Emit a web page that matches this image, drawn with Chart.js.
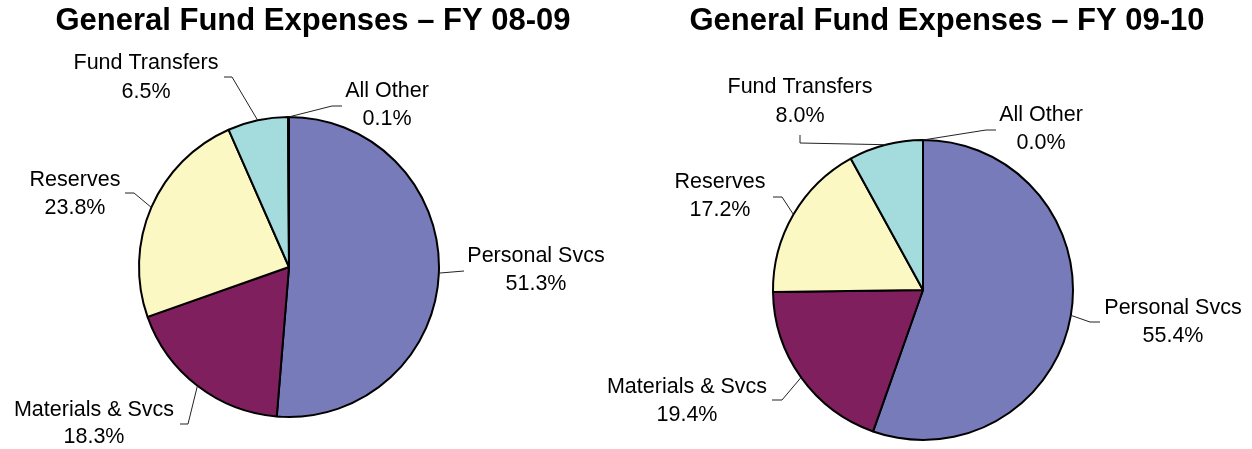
<!DOCTYPE html>
<html>
<head>
<meta charset="utf-8">
<script src="https://cdn.jsdelivr.net/npm/chart.js@4/dist/chart.umd.min.js"></script>
<style>
  body { margin: 0; background: #fff; }
  canvas { position: absolute; top: 0; left: 0; }
</style>
</head>
<body>
<canvas id="chart-0809" width="1252" height="449"></canvas>
<canvas id="chart-0910" width="1252" height="449"></canvas>
<script>
// data
const categories = ["Personal Svcs", "Materials & Svcs", "Reserves", "Fund Transfers", "All Other"];
const fy0809 = [51.3, 18.3, 23.8, 6.5, 0.1];
const fy0910 = [55.4, 19.4, 17.2, 8.0, 0.0];
const titles = ["General Fund Expenses – FY 08-09", "General Fund Expenses – FY 09-10"];

const sliceColors = ["#787bba", "#801f5e", "#fbf8c3", "#a4dcde", "#ffffff"];
const labelFont = '21.5px "Liberation Sans", Arial, sans-serif';
const titleFont = 'bold 31px "Liberation Sans", Arial, sans-serif';

// label placement: [centerX, line1Y, line2Y], then leader points after the arc
const layout0809 = {
  title: [313, 21],
  text: [[536, 256, 284], [94, 410, 437], [75, 180, 208], [146, 63, 92], [387, 91, 119]],
  leader: [
    [[464, 271]],
    [[188, 424], [180, 424]],
    [[134, 193], [125, 193]],
    [[232, 77], [224, 77]],
    [[332, 106], [342, 106]],
  ],
};
const layout0910 = {
  title: [947, 21],
  text: [[1173, 308, 336], [687, 387, 415], [720, 182, 210], [800, 87, 116], [1041, 115, 143]],
  leader: [
    [[1090, 322], [1100, 322]],
    [[782, 400], [772, 400]],
    [[782, 197], [773, 197]],
    [[800, 143], [800, 135]],
    [[986, 130], [996, 130]],
  ],
};

const leaderLabels = {
  id: "leaderLabels",
  afterDraw(chart, args, opts) {
    const ctx = chart.ctx;
    const L = opts.layout;
    const meta = chart.getDatasetMeta(0);
    const values = chart.data.datasets[0].data;
    ctx.save();

    ctx.fillStyle = "#000";
    ctx.textAlign = "center";
    ctx.textBaseline = "middle";
    ctx.font = titleFont;
    ctx.fillText(opts.title, L.title[0], L.title[1]);

    ctx.font = labelFont;
    ctx.strokeStyle = "#222";
    ctx.lineWidth = 1;
    meta.data.forEach((arc, i) => {
      const p = arc.getProps(["x", "y", "startAngle", "endAngle", "outerRadius"]);
      const mid = (p.startAngle + p.endAngle) / 2;
      ctx.beginPath();
      ctx.moveTo(p.x + Math.cos(mid) * p.outerRadius, p.y + Math.sin(mid) * p.outerRadius);
      L.leader[i].forEach(pt => ctx.lineTo(pt[0], pt[1]));
      ctx.stroke();

      const t = L.text[i];
      ctx.fillText(chart.data.labels[i], t[0], t[1]);
      ctx.fillText(values[i].toFixed(1) + "%", t[0], t[2]);
    });
    ctx.restore();
  },
};

function makePie(id, values, title, layout, padding) {
  return new Chart(document.getElementById(id), {
    type: "pie",
    data: {
      labels: categories,
      datasets: [{
        data: values,
        backgroundColor: sliceColors,
        borderColor: "#000",
        borderWidth: 2,
        hoverOffset: 0,
      }],
    },
    options: {
      responsive: false,
      animation: false,
      devicePixelRatio: 1,
      layout: { padding: padding },
      events: [],
      plugins: {
        legend: { display: false },
        tooltip: { enabled: false },
        title: { display: false },
        leaderLabels: { title: title, layout: layout },
      },
    },
    plugins: [leaderLabels],
  });
}

makePie("chart-0809", fy0809, titles[0], layout0809, { left: 138, right: 812, top: 116, bottom: 31 });
makePie("chart-0910", fy0910, titles[1], layout0910, { left: 772, right: 178, top: 139, bottom: 8 });
</script>
</body>
</html>
